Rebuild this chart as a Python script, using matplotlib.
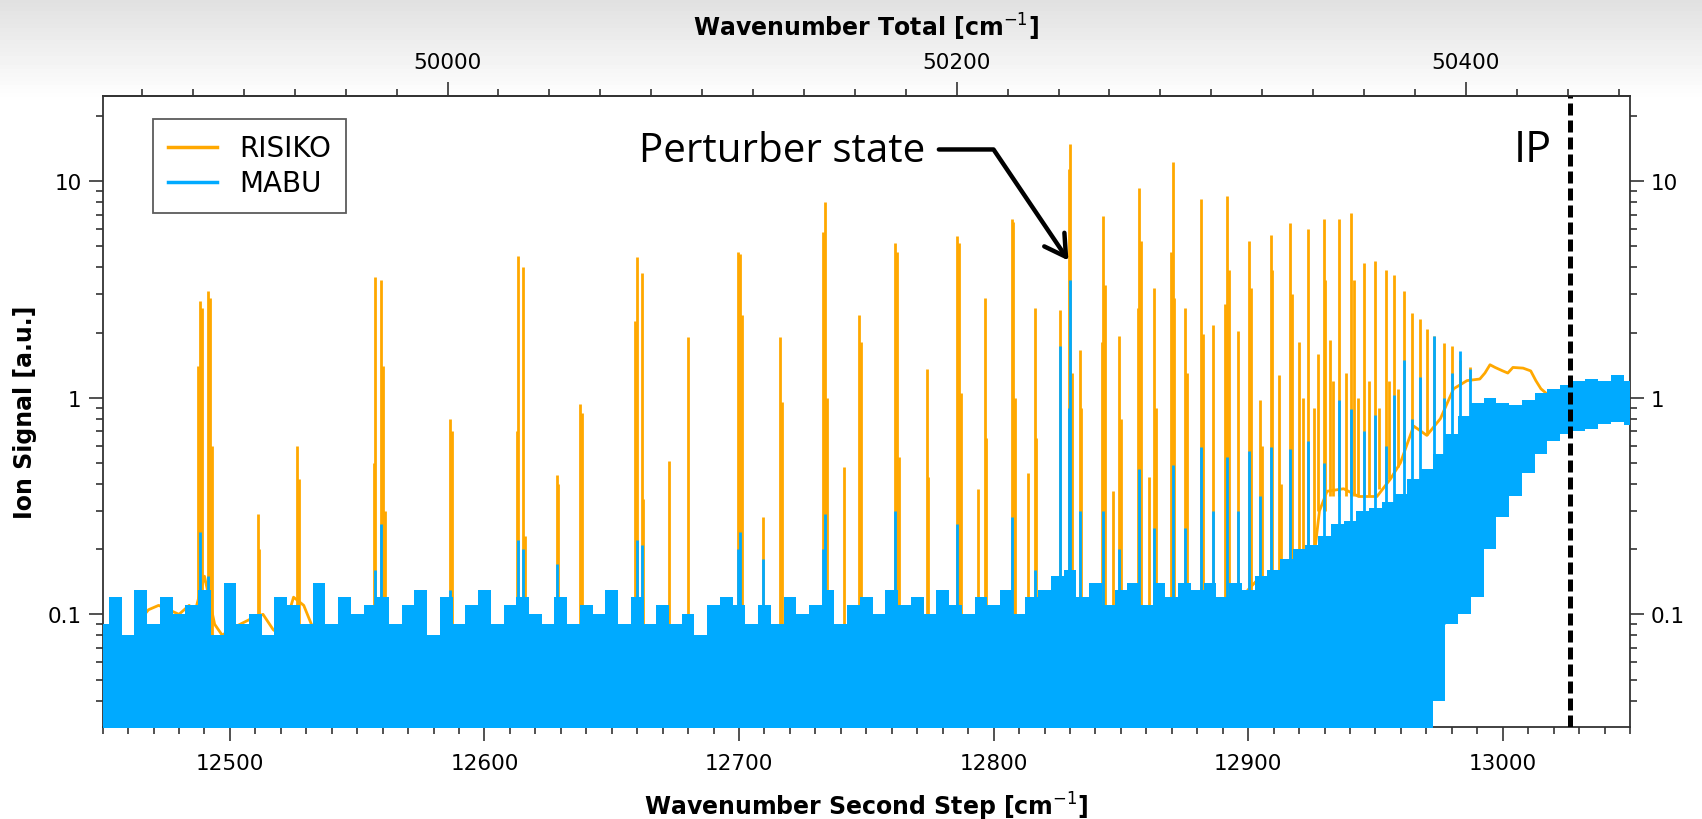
import matplotlib
matplotlib.use('Agg')
import matplotlib.pyplot as plt
import numpy as np
from matplotlib.lines import Line2D
from matplotlib.ticker import MultipleLocator, FixedLocator, LogLocator, NullFormatter, FuncFormatter

plt.rcParams['font.family'] = 'DejaVu Sans'

ORANGE = '#ffa800'
BLUE = '#00aaff'

FIRST_STEP = 37414.5   # total wavenumber = first step + second step
IP_WN = 13026.5        # ionisation potential (second step)

# --- RISIKO: visible baseline between the resonances ---
risiko_base_wn = [12465, 12468, 12472, 12476, 12480, 12484, 12486, 12490, 12494, 12497,
                  12500, 12504, 12508, 12513, 12517, 12520, 12523, 12525, 12529, 12532,
                  12536, 12545, 12600, 12700, 12800, 12890, 12900, 12905, 12910, 12914,
                  12920, 12925, 12928, 12931, 12937.5, 12943.4, 12950.6, 12955.8, 12959.8, 12965,
                  12970.2, 12975.5, 12980.7, 12986, 12991, 12993, 12995, 12997, 13000, 13002,
                  13004, 13008, 13011, 13013, 13015, 13020, 13025, 13030, 13035, 13040,
                  13045, 13050]
risiko_base_val = [0.095, 0.105, 0.11, 0.105, 0.1, 0.11, 0.1, 0.15, 0.09, 0.08,
                   0.085, 0.09, 0.095, 0.1, 0.085, 0.08, 0.1, 0.12, 0.11, 0.09,
                   0.08, 0.07, 0.07, 0.07, 0.08, 0.09, 0.13, 0.15, 0.11, 0.1,
                   0.16, 0.15, 0.3, 0.37, 0.38, 0.35, 0.35, 0.42, 0.5, 0.74,
                   0.67, 0.8, 1.1, 1.2, 1.22, 1.3, 1.42, 1.38, 1.33, 1.3,
                   1.38, 1.37, 1.33, 1.2, 1.1, 0.98, 0.92, 0.88, 0.85, 0.82,
                   0.9, 0.88]

# --- RISIKO resonance lines: position, top, floor ---
risiko_peak_wn = [12487.6, 12488.2, 12489.0, 12491.5, 12492.3, 12493.0, 12510.9, 12511.5, 12526.2, 12527.0,
                  12556.6, 12557.0, 12559.4, 12560.0, 12561.0, 12586.5, 12587.2, 12612.8, 12613.3, 12615.3,
                  12616.0, 12628.4, 12629.0, 12637.5, 12638.2, 12659.3, 12659.8, 12661.8, 12662.4, 12672.5,
                  12680.1, 12699.4, 12700.5, 12701.2, 12709.6, 12716.1, 12716.8, 12732.9, 12733.8, 12734.5,
                  12741.3, 12747.2, 12747.8, 12761.3, 12762.2, 12763.0, 12773.8, 12774.4, 12785.8, 12786.5,
                  12787.2, 12794.0, 12796.7, 12797.2, 12807.2, 12807.8, 12808.5, 12813.7, 12816.3, 12816.8,
                  12826.2, 12829.6, 12830.1, 12830.7, 12834.0, 12834.5, 12842.4, 12842.9, 12843.6, 12847.0,
                  12849.3, 12849.9, 12856.8, 12857.3, 12857.9, 12861.2, 12863.1, 12863.7, 12869.7, 12870.3,
                  12870.9, 12875.3, 12875.9, 12881.6, 12882.2, 12886.0, 12891.0, 12891.6, 12892.3, 12896.0,
                  12900.5, 12901.1, 12904.7, 12905.5, 12908.9, 12909.5, 12912.0, 12913.0, 12916.5, 12917.2,
                  12919.8, 12921.5, 12923.5, 12926.0, 12927.5, 12929.6, 12930.3, 12932.3, 12933.5, 12935.5,
                  12938.5, 12940.5, 12941.4, 12943.3, 12945.4, 12947.5, 12949.7, 12951.5, 12954.1, 12955.5,
                  12957.4, 12959.0, 12961.1, 12964.4, 12967.6, 12970.2, 12972.9, 12976.8, 12980.1, 12983.3,
                  12987.3]
risiko_peak_top = [1.4, 2.8, 2.6, 3.1, 2.9, 0.6, 0.29, 0.2, 0.6, 0.42,
                   0.5, 3.6, 3.5, 1.4, 0.3, 0.8, 0.7, 0.7, 4.5, 4.0,
                   0.23, 0.44, 0.4, 0.94, 0.85, 2.25, 4.45, 3.75, 0.34, 0.51,
                   1.9, 4.7, 4.6, 2.4, 0.28, 1.9, 0.96, 5.8, 8.0, 1.0,
                   0.48, 2.4, 1.8, 5.2, 4.7, 0.53, 1.35, 0.43, 5.6, 5.2,
                   1.05, 0.38, 2.9, 0.65, 6.65, 6.5, 1.0, 0.45, 2.6, 0.65,
                   2.55, 11.4, 14.8, 1.3, 1.66, 0.9, 1.8, 6.9, 3.3, 0.37,
                   1.93, 0.8, 2.6, 9.3, 5.3, 0.43, 3.2, 0.9, 4.7, 12.2,
                   2.9, 2.6, 1.3, 8.3, 1.96, 2.16, 2.7, 8.5, 3.9, 2.04,
                   5.3, 3.2, 0.98, 0.6, 5.65, 3.9, 1.27, 0.4, 6.4, 3.0,
                   1.8, 1.0, 6.0, 0.9, 1.6, 6.65, 3.5, 1.85, 1.2, 6.7,
                   1.3, 7.1, 3.5, 1.0, 4.2, 1.2, 4.3, 0.9, 3.9, 1.2,
                   3.7, 1.1, 3.1, 2.45, 2.3, 2.07, 1.93, 1.78, 1.74, 1.5,
                   1.38]
risiko_peak_floor = [0.06] * 90 + [0.12, 0.12, 0.12, 0.12, 0.12, 0.12, 0.12, 0.12, 0.12, 0.12,
                                   0.15, 0.15, 0.15, 0.2, 0.3, 0.3, 0.3, 0.35, 0.35, 0.35,
                                   0.35, 0.35, 0.35, 0.35, 0.35, 0.35, 0.35, 0.38, 0.4, 0.42,
                                   0.45, 0.48, 0.5, 0.7, 0.7, 0.67, 0.75, 0.8, 1.1, 1.15,
                                   1.2]

# --- MABU: noise band (sampled every 5 cm-1) ---
mabu_band_wn = [12450, 12455, 12460, 12465, 12470, 12475, 12480, 12485, 12490, 12495,
                12500, 12505, 12510, 12515, 12520, 12525, 12530, 12535, 12540, 12545,
                12550, 12555, 12560, 12565, 12570, 12575, 12580, 12585, 12590, 12595,
                12600, 12605, 12610, 12615, 12620, 12625, 12630, 12635, 12640, 12645,
                12650, 12655, 12660, 12665, 12670, 12675, 12680, 12685, 12690, 12695,
                12700, 12705, 12710, 12715, 12720, 12725, 12730, 12735, 12740, 12745,
                12750, 12755, 12760, 12765, 12770, 12775, 12780, 12785, 12790, 12795,
                12800, 12805, 12810, 12815, 12820, 12825, 12830, 12835, 12840, 12845,
                12850, 12855, 12860, 12865, 12870, 12875, 12880, 12885, 12890, 12895,
                12900, 12905, 12910, 12915, 12920, 12925, 12930, 12935, 12940, 12945,
                12950, 12955, 12960, 12965, 12970, 12975, 12980, 12985, 12990, 12995,
                13000, 13005, 13010, 13015, 13020, 13025, 13030, 13035, 13040, 13045,
                13050]
mabu_band_hi = [0.09, 0.12, 0.08, 0.13, 0.09, 0.12, 0.10, 0.11, 0.13, 0.08,
                0.14, 0.09, 0.10, 0.08, 0.12, 0.11, 0.09, 0.14, 0.09, 0.12,
                0.10, 0.11, 0.12, 0.09, 0.11, 0.13, 0.08, 0.12, 0.09, 0.11,
                0.13, 0.09, 0.11, 0.12, 0.10, 0.09, 0.12, 0.09, 0.11, 0.10,
                0.13, 0.09, 0.12, 0.09, 0.11, 0.09, 0.10, 0.08, 0.11, 0.12,
                0.11, 0.09, 0.11, 0.09, 0.12, 0.10, 0.11, 0.13, 0.09, 0.11,
                0.12, 0.10, 0.13, 0.11, 0.12, 0.10, 0.13, 0.11, 0.10, 0.12,
                0.11, 0.13, 0.10, 0.12, 0.13, 0.15, 0.16, 0.12, 0.14, 0.11,
                0.13, 0.14, 0.11, 0.14, 0.12, 0.14, 0.13, 0.14, 0.12, 0.14,
                0.13, 0.15, 0.16, 0.18, 0.20, 0.21, 0.23, 0.26, 0.27, 0.30,
                0.31, 0.33, 0.36, 0.42, 0.47, 0.55, 0.68, 0.82, 0.95, 1.00,
                0.95, 0.93, 0.98, 1.05, 1.10, 1.15, 1.20, 1.22, 1.20, 1.28,
                1.20]
mabu_band_lo = [0.02] * 105 + [0.04, 0.09, 0.10, 0.12, 0.20,
                               0.28, 0.35, 0.45, 0.55, 0.63, 0.68, 0.70, 0.72, 0.76, 0.77,
                               0.75]

# --- MABU resonance lines: position, top, floor ---
mabu_peak_wn = [12488.2, 12491.5, 12557.0, 12559.4, 12586.5, 12613.3, 12615.3, 12628.4, 12659.8, 12661.8,
                12699.4, 12700.5, 12709.6, 12732.9, 12733.8, 12761.3, 12785.8, 12807.2, 12816.3, 12826.2,
                12829.6, 12830.1, 12834.0, 12842.9, 12849.3, 12857.3, 12863.1, 12870.3, 12875.3, 12881.6,
                12886.0, 12891.6, 12896.0, 12900.5, 12904.7, 12908.9, 12916.5, 12923.5, 12929.6, 12935.5,
                12940.5, 12945.4, 12949.7, 12954.1, 12957.4, 12961.1, 12964.4, 12967.6, 12972.9, 12976.8,
                12980.1, 12983.3, 12987.3]
mabu_peak_top = [0.24, 0.15, 0.16, 0.26, 0.13, 0.22, 0.2, 0.17, 0.22, 0.21,
                 0.2, 0.24, 0.18, 0.2, 0.29, 0.3, 0.26, 0.28, 0.16, 1.74,
                 0.9, 3.5, 0.3, 0.3, 0.2, 0.47, 0.25, 0.49, 0.25, 0.59,
                 0.3, 0.53, 0.3, 0.57, 0.35, 0.59, 0.58, 0.63, 0.5, 0.98,
                 0.89, 0.7, 0.83, 0.6, 1.03, 1.5, 0.8, 1.24, 1.93, 1.0,
                 1.3, 1.65, 1.35]
mabu_peak_floor = [0.06] * 49 + [0.09, 0.1, 0.11, 0.15]

# ----------------------------------------------------------------------
fig = plt.figure(figsize=(17.02, 8.2), dpi=100)

# light grey shade at the top of the slide
bg = fig.add_axes([0, 0, 1, 1], zorder=-10)
shade = np.ones((200, 2))
shade[:25] = np.linspace(0.88, 1.0, 25)[:, None]
bg.imshow(shade, cmap='gray', vmin=0, vmax=1, aspect='auto', extent=[0, 1, 0, 1])
bg.set_axis_off()

ax = fig.add_axes([0.0603, 0.1126, 0.8974, 0.7695])

ax.vlines(risiko_peak_wn, risiko_peak_floor, risiko_peak_top, color=ORANGE, lw=2.0, zorder=2)
ax.plot(risiko_base_wn, risiko_base_val, color=ORANGE, lw=2.0, zorder=2)
ax.fill_between(mabu_band_wn, mabu_band_lo, mabu_band_hi, step='mid', color=BLUE, lw=0, zorder=3)
ax.vlines(mabu_peak_wn, mabu_peak_floor, mabu_peak_top, color=BLUE, lw=2.0, zorder=3)

ax.axvline(IP_WN, color='black', lw=3.6, linestyle=(0, (2.4, 1.0)), zorder=5)

ax.set_yscale('log')
ax.set_xlim(12450, 13050)
ax.set_ylim(0.0303, 24.8)

ax.xaxis.set_major_locator(MultipleLocator(100))
ax.xaxis.set_minor_locator(MultipleLocator(10))
ax.yaxis.set_major_locator(LogLocator(base=10, numticks=10))
ax.yaxis.set_minor_locator(LogLocator(base=10, subs=np.arange(2, 10), numticks=20))
ax.yaxis.set_major_formatter(FuncFormatter(lambda v, p: f'{v:g}'))
ax.yaxis.set_minor_formatter(NullFormatter())

ax.tick_params(which='both', direction='out', top=False, right=True, labelright=True,
               labelsize=15.5, width=1.2, color='#333333')
ax.tick_params(which='major', length=10)
ax.tick_params(which='minor', length=5)
ax.tick_params(axis='x', which='major', pad=9)
ax.tick_params(axis='y', which='major', pad=5)
for sp in ax.spines.values():
    sp.set_linewidth(1.3)
    sp.set_color('#333333')

ax.set_xlabel('Wavenumber Second Step [cm$^{-1}$]', fontsize=17, fontweight='bold', labelpad=12)
ax.set_ylabel('Ion Signal [a.u.]', fontsize=17, fontweight='bold', labelpad=8)

top = ax.secondary_xaxis('top', functions=(lambda x: x + FIRST_STEP, lambda x: x - FIRST_STEP))
top.xaxis.set_major_locator(FixedLocator([50000, 50200, 50400]))
top.xaxis.set_minor_locator(FixedLocator(list(range(49880, 50461, 20))))
top.tick_params(which='both', direction='out', labelsize=15.5, width=1.2, color='#333333')
top.tick_params(which='major', length=10, pad=7)
top.tick_params(which='minor', length=5)
top.spines['top'].set_linewidth(1.3)
top.spines['top'].set_color('#333333')
top.set_xlabel('Wavenumber Total [cm$^{-1}$]', fontsize=17, fontweight='bold', labelpad=12)

handles = [Line2D([], [], color=ORANGE, lw=2.5), Line2D([], [], color=BLUE, lw=2.5)]
leg = ax.legend(handles, ['RISIKO', 'MABU'], loc='upper left', bbox_to_anchor=(0.033, 0.963),
                borderaxespad=0, fontsize=20, frameon=True, fancybox=False, handlelength=1.75,
                handletextpad=0.8, borderpad=0.55, labelspacing=0.25)
leg.get_frame().set_edgecolor('#333333')
leg.get_frame().set_linewidth(1.3)

ax.text(12660.7, 12.4, 'Perturber state', fontsize=29, family='Open Sans', va='baseline', zorder=6)
ax.annotate('', xy=(12829.4, 4.3), xytext=(12778.5, 14.0),
            arrowprops=dict(arrowstyle='->,head_length=0.6,head_width=0.35', lw=3.2,
                            connectionstyle='angle,angleA=0,angleB=124,rad=0',
                            shrinkA=0, shrinkB=0, mutation_scale=25, color='black'), zorder=6)
ax.text(13019.5, 12.4, 'IP', fontsize=31, family='Open Sans', va='baseline', ha='right', zorder=6)

fig.savefig('out.png', dpi=100)
